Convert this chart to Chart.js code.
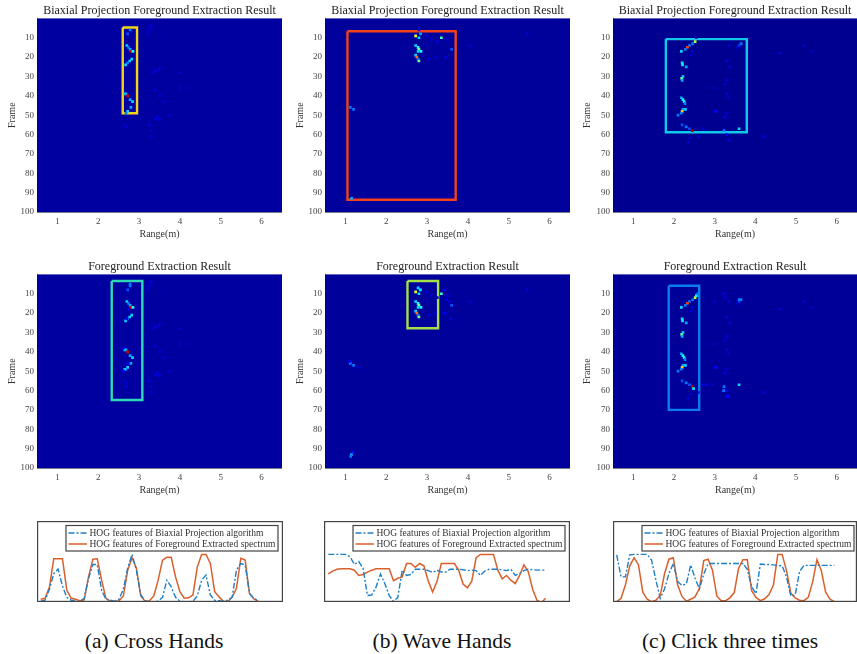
<!DOCTYPE html>
<html>
<head>
<meta charset="utf-8">
<title>Foreground extraction comparison</title>
<script src="https://cdn.jsdelivr.net/npm/chart.js@4"></script>
<style>
    body { margin: 0; background: #fff; }
    #page { position: relative; width: 857px; height: 654px; overflow: hidden; }
    canvas { position: absolute; filter: blur(0.5px); }
    .caption { position: absolute; top: 628px; font: 21.5px/26px "Liberation Serif", serif; color: #111; transform: translateX(-50%); white-space: nowrap; }
</style>
</head>
<body>
<div id="page">
    <div class="caption" style="left:154px">(a) Cross Hands</div>
    <div class="caption" style="left:442px">(b) Wave Hands</div>
    <div class="caption" style="left:730px">(c) Click three times</div>
</div>
<script>
const rangeTicks = [1, 2, 3, 4, 5, 6];
const frameTicks = [10, 20, 30, 40, 50, 60, 70, 80, 90, 100];
const sampleIndex = [];
for (let i = 0; i <= 50; i++) sampleIndex.push(i);

const biaxialTitle = 'Biaxial Projection Foreground Extraction Result';
const foregroundTitle = 'Foreground Extraction Result';
const biaxialLabel = 'HOG features of Biaxial Projection algorithm';
const foregroundLabel = 'HOG features of Foreground Extracted spectrum';

// heatmap cells seen in both rows: range (m), frame, colour level
const crossRange = [2.78, 2.72, 2.70, 2.74, 2.78, 2.80, 2.85, 2.82, 2.77, 2.72, 2.67, 2.65, 2.68, 2.72, 2.78, 2.84, 2.80, 2.72, 2.68, 3.30, 3.25, 3.22, 3.40, 3.50, 3.35, 4.00, 3.40, 3.50, 3.60, 3.75, 3.45, 3.40, 2.70, 2.65, 3.25, 3.28, 3.30, 3.50, 4.02];
const crossFrame = [6, 8, 14, 15, 16, 17, 17, 21, 22, 23, 24, 39, 39, 40, 42, 43, 46, 48, 49, 4, 6, 8, 27, 26, 28, 28, 37, 40, 43, 50, 51, 52, 56, 55, 55, 58, 61, 52, 36];
const crossLevel = [0.3, 0.25, 0.4, 0.3, 0.35, 0.9, 0.45, 0.4, 0.4, 0.3, 0.4, 0.4, 0.35, 0.9, 0.35, 0.4, 0.35, 0.4, 0.3, 0.085, 0.085, 0.07, 0.07, 0.06, 0.06, 0.06, 0.07, 0.06, 0.06, 0.06, 0.1, 0.07, 0.07, 0.06, 0.07, 0.06, 0.06, 0.06, 0.06];
// extra cells only in the foreground row
const crossExtraRange = [2.78, 2.62, 2.72, 2.65, 2.62, 2.68, 2.74, 2.70];
const crossExtraFrame = [5, 38, 46, 49, 50, 58, 18, 23];
const crossExtraLevel = [0.3, 0.12, 0.12, 0.4, 0.12, 0.085, 0.12, 0.12];

const waveRange = [2.72, 2.84, 2.80, 2.72, 2.78, 2.80, 2.85, 2.78, 2.72, 2.75, 2.78, 2.80, 3.35, 3.60, 1.12, 1.20, 1.15, 2.80, 3.00, 3.10, 3.00, 3.45, 3.25, 3.50, 3.20, 3.05, 5.45, 4.05];
const waveFrame = [9, 8, 10, 14, 15, 16, 17, 17, 19, 20, 21, 22, 10, 16, 46, 47, 93, 6, 9, 11, 14, 20, 12, 11, 20, 21, 8, 14];
const waveLevel = [0.65, 0.35, 0.4, 0.4, 0.45, 0.55, 0.45, 0.4, 0.4, 0.78, 0.3, 0.55, 0.5, 0.25, 0.3, 0.3, 0.35, 0.085, 0.07, 0.07, 0.06, 0.085, 0.06, 0.06, 0.06, 0.06, 0.06, 0.06];
const waveExtraRange = [2.78, 2.83, 3.42, 3.47, 3.55, 3.58, 3.42, 1.13, 1.18, 1.10, 1.30];
const waveExtraFrame = [7, 8, 8, 13, 14, 23, 20, 94, 92, 45, 48];
const waveExtraLevel = [0.4, 0.4, 0.12, 0.12, 0.085, 0.085, 0.12, 0.3, 0.17, 0.12, 0.07];

const clickRange = [2.52, 2.46, 2.38, 2.33, 2.28, 2.18, 2.20, 2.21, 2.30, 2.19, 2.22, 2.20, 2.18, 2.22, 2.25, 2.27, 2.28, 2.22, 2.20, 2.18, 2.10, 2.20, 2.30, 2.38, 2.45, 3.60, 3.23, 3.65, 3.60, 2.55, 2.45, 2.42, 3.30, 3.38, 3.30, 3.25, 3.00, 3.30, 3.35, 3.05, 3.00, 3.25, 3.30, 2.72, 3.30, 3.35, 2.40, 2.35, 2.60, 3.55, 4.20, 4.60, 5.20, 5.40, 3.35];
const clickFrame = [12, 13, 14, 15, 16, 17, 23, 24, 25, 31, 30, 32, 41, 42, 43, 44, 47, 47, 48, 49, 50, 55, 56, 57, 58, 57, 58, 13, 14, 10, 17, 19, 22, 25, 32, 34, 36, 39, 41, 48, 48, 51, 49, 57, 60, 63, 62, 64, 61, 15, 61, 18, 14, 17, 14];
const clickLevel = [0.6, 0.3, 0.3, 0.82, 0.3, 0.4, 0.42, 0.42, 0.35, 0.55, 0.4, 0.35, 0.35, 0.45, 0.45, 0.3, 0.4, 0.35, 0.7, 0.3, 0.3, 0.25, 0.3, 0.25, 0.92, 0.4, 0.3, 0.3, 0.22, 0.085, 0.07, 0.07, 0.085, 0.07, 0.075, 0.07, 0.06, 0.075, 0.07, 0.14, 0.1, 0.12, 0.085, 0.085, 0.12, 0.12, 0.07, 0.06, 0.06, 0.06, 0.085, 0.06, 0.06, 0.06, 0.075];
const clickExtraRange = [2.48, 2.55, 2.58, 3.22, 3.25, 3.00, 2.80, 2.95, 3.60, 3.22, 3.30];
const clickExtraFrame = [59, 11, 10, 10, 12, 14, 57, 57, 13, 60, 63];
const clickExtraLevel = [0.42, 0.45, 0.3, 0.085, 0.085, 0.07, 0.085, 0.07, 0.3, 0.3, 0.14];

// highlight rectangles [from, to]
const boxCrossTopRange = [2.60, 2.95], boxCrossTopFrame = [4.7, 49];
const boxWaveTopRange = [1.05, 3.70], boxWaveTopFrame = [6.6, 93.7];
const boxClickTopRange = [1.80, 3.79], boxClickTopFrame = [10.7, 58.8];
const boxCrossBottomRange = [2.33, 3.08], boxCrossBottomFrame = [3.4, 64.9];
const boxWaveBottomRange = [2.52, 3.27], boxWaveBottomFrame = [3.4, 27.8];
const boxClickBottomRange = [1.87, 2.62], boxClickBottomFrame = [5.9, 70];

// HOG curves, 51 samples, 100 = top of the curves
const crossBiaxial = [1, 3, 26, 59, 68, 33, 9, 3, 1, 0, 7, 49, 78, 78, 24, 5, 3, 1, 5, 26, 70, 99, 66, 14, 2, 0, 0, 1, 9, 45, 31, 9, 1, 0, 0, 1, 12, 45, 56, 14, 3, 2, 1, 3, 9, 66, 80, 77, 17, 7, 2];
const crossForeground = [5, 7, 30, 90, 90, 90, 24, 7, 5, 2, 4, 52, 89, 90, 45, 7, 1, 0, 2, 12, 66, 92, 70, 12, 1, 2, 12, 45, 87, 93, 93, 52, 21, 7, 8, 14, 73, 99, 99, 80, 21, 10, 1, 0, 9, 28, 91, 87, 17, 6, 1];
const waveBiaxial = [99, 99, 99, 99, 99, 94, 78, 84, 70, 13, 14, 31, 58, 38, 13, 1, 9, 66, 55, 57, 68, 68, 68, 65, 61, 66, 62, 62, 68, 68, 68, 67, 65, 66, 65, 55, 64, 68, 68, 68, 67, 65, 68, 55, 59, 65, 68, 67, 66, 66, 66];
const waveForeground = [58, 64, 68, 69, 69, 69, 66, 55, 57, 62, 66, 69, 69, 69, 69, 44, 49, 52, 80, 80, 72, 80, 75, 43, 20, 42, 80, 80, 80, 80, 66, 37, 29, 43, 92, 99, 99, 99, 99, 66, 48, 55, 45, 38, 55, 77, 63, 26, 3, -2, 7];
const clickBiaxial = [98, 52, 52, 98, 99, 99, 99, 99, 87, 45, 7, 27, 59, 80, 42, 34, 37, 77, 49, 27, 58, 80, 80, 80, 80, 80, 80, 80, 80, 80, 68, 31, 17, 79, 78, 78, 77, 76, 75, 52, 12, 14, 63, 76, 76, 76, 76, 76, 76, 76, 76];
const clickForeground = [0, 7, 35, 75, 92, 77, 20, 5, 0, 3, 13, 59, 89, 92, 35, 11, 1, 5, 10, 28, 86, 89, 66, 12, 2, 2, 8, 19, 70, 88, 88, 23, 9, 2, 6, 15, 35, 99, 99, 65, 18, 8, 3, 2, 9, 41, 88, 65, 20, 5, 0];

function jet(level) {
    const l = Math.pow(level, 1.4) + 0.06;
    const c = (v) => Math.round(255 * Math.max(0, Math.min(1, v)));
    return 'rgb(' + c(1.5 - Math.abs(4 * l - 3)) + ',' + c(1.5 - Math.abs(4 * l - 2)) + ',' + c(1.5 - Math.abs(4 * l - 1)) + ')';
}

function addCanvas(left, top, width, height) {
    const canvas = document.createElement('canvas');
    canvas.width = width;
    canvas.height = height;
    canvas.style.left = left + 'px';
    canvas.style.top = top + 'px';
    document.getElementById('page').appendChild(canvas);
    return canvas;
}

const plotBackground = {
    id: 'plotBackground',
    beforeDatasetsDraw(chart, args, opts) {
        const a = chart.chartArea;
        chart.ctx.fillStyle = opts.color;
        chart.ctx.fillRect(a.left, a.top, a.right - a.left, a.bottom - a.top);
    }
};

function heatPanel(p) {
    const serif = '"Liberation Serif", serif';
    const cells = p.range.map((x, i) => ({ x: x, y: p.frame[i] }));
    const r = p.boxRange, f = p.boxFrame;
    new Chart(addCanvas(p.left, p.top, p.width, 240), {
        type: 'scatter',
        data: {
            datasets: [{
                data: cells,
                pointStyle: 'rect',
                pointRadius: 1.9,
                pointBorderWidth: 0,
                backgroundColor: p.level.map(jet)
            }, {
                data: [{ x: r[0], y: f[0] }, { x: r[1], y: f[0] }, { x: r[1], y: f[1] }, { x: r[0], y: f[1] }, { x: r[0], y: f[0] }],
                showLine: true,
                pointRadius: 0,
                borderColor: p.boxColor,
                borderWidth: 2.4
            }]
        },
        options: {
            responsive: false,
            animation: false,
            layout: { padding: 0, autoPadding: false },
            plugins: {
                legend: { display: false },
                tooltip: { enabled: false },
                title: {
                    display: true,
                    text: p.title,
                    fullSize: false,
                    color: '#222',
                    font: { family: serif, size: 12, weight: 'normal' },
                    padding: { top: 3.5, bottom: 0.5 }
                },
                plotBackground: { color: p.background }
            },
            scales: {
                x: {
                    type: 'linear',
                    min: 0.5,
                    max: 6.5,
                    grid: { display: false, tickLength: 4 },
                    border: { color: '#77778a' },
                    afterBuildTicks(axis) { axis.ticks = rangeTicks.map((v) => ({ value: v })); },
                    afterFit(axis) { axis.height = 28; },
                    ticks: { color: '#444', font: { family: serif, size: 9 }, padding: 0, autoSkip: false, maxRotation: 0 },
                    title: { display: true, text: 'Range(m)', color: '#333', font: { family: serif, size: 10 }, padding: { top: 0, bottom: 0 } }
                },
                y: {
                    type: 'linear',
                    reverse: true,
                    min: 0,
                    max: 100,
                    grid: { display: false, drawTicks: false },
                    border: { color: '#77778a' },
                    afterBuildTicks(axis) { axis.ticks = frameTicks.map((v) => ({ value: v })); },
                    afterFit(axis) { axis.width = p.axisWidth; },
                    ticks: { color: '#444', font: { family: serif, size: 9 }, padding: 3, autoSkip: false },
                    title: { display: true, text: 'Frame', color: '#333', font: { family: serif, size: 10 }, padding: { top: p.framePad, bottom: 0 } }
                }
            }
        },
        plugins: [plotBackground]
    });
}

// legend drawn inside the plot, the library's own legend cannot sit there
const insideLegend = {
    id: 'insideLegend',
    afterDatasetsDraw(chart, args, opts) {
        const ctx = chart.ctx;
        ctx.save();
        ctx.fillStyle = '#fff';
        ctx.fillRect(opts.left, opts.top, opts.width, opts.height);
        ctx.strokeStyle = '#444';
        ctx.lineWidth = 1.2;
        ctx.strokeRect(opts.left, opts.top, opts.width, opts.height);
        ctx.font = '9.5px "Liberation Serif", serif';
        ctx.textBaseline = 'middle';
        chart.data.datasets.forEach((ds, i) => {
            const y = opts.top + 7.5 + i * 11;
            ctx.strokeStyle = ds.borderColor;
            ctx.lineWidth = ds.borderWidth;
            ctx.setLineDash(ds.borderDash || []);
            ctx.beginPath();
            ctx.moveTo(opts.left + 2.5, y);
            ctx.lineTo(opts.left + 21, y);
            ctx.stroke();
            ctx.setLineDash([]);
            ctx.fillStyle = '#333';
            ctx.fillText(ds.label, opts.left + 23.5, y);
        });
        ctx.strokeStyle = '#444';
        ctx.lineWidth = 1.2;
        ctx.strokeRect(0.6, 0.6, chart.width - 1.2, chart.height - 1.2);
        ctx.restore();
    }
};

function hogPanel(p) {
    new Chart(addCanvas(p.left, 521, p.width, 81), {
        type: 'line',
        data: {
            labels: sampleIndex,
            datasets: [{
                label: biaxialLabel,
                data: sampleIndex.map((x, i) => ({ x: x, y: p.biaxial[i] })),
                borderColor: '#1f7fc4',
                borderWidth: 1.4,
                borderDash: [6, 2, 2, 2],
                pointRadius: 0
            }, {
                label: foregroundLabel,
                data: sampleIndex.map((x, i) => ({ x: x, y: p.foreground[i] })),
                borderColor: '#d9602c',
                borderWidth: 1.5,
                pointRadius: 0
            }]
        },
        options: {
            responsive: false,
            animation: false,
            layout: { padding: 0, autoPadding: false },
            plugins: {
                legend: { display: false },
                tooltip: { enabled: false },
                insideLegend: { left: 29, top: 4.5, width: 212, height: 25.5 }
            },
            scales: {
                x: { type: 'linear', display: false, min: p.xMin, max: p.xMax },
                y: { type: 'linear', display: false, min: -0.7, max: 169 }
            }
        },
        plugins: [insideLegend]
    });
}

heatPanel({ left: 0, top: 0, width: 282, axisWidth: 37, framePad: 6, title: biaxialTitle, background: '#0000a0', boxColor: '#f5d415', boxRange: boxCrossTopRange, boxFrame: boxCrossTopFrame, range: crossRange, frame: crossFrame, level: crossLevel });
heatPanel({ left: 290, top: 0, width: 280, axisWidth: 35, framePad: 4, title: biaxialTitle, background: '#00009a', boxColor: '#f5401a', boxRange: boxWaveTopRange, boxFrame: boxWaveTopFrame, range: waveRange, frame: waveFrame, level: waveLevel });
heatPanel({ left: 575, top: 0, width: 282, axisWidth: 38, framePad: 6, title: biaxialTitle, background: '#000090', boxColor: '#10c8e8', boxRange: boxClickTopRange, boxFrame: boxClickTopFrame, range: clickRange, frame: clickFrame, level: clickLevel });
heatPanel({ left: 0, top: 256, width: 282, axisWidth: 37, framePad: 6, title: foregroundTitle, background: '#0000a0', boxColor: '#2fd9b5', boxRange: boxCrossBottomRange, boxFrame: boxCrossBottomFrame, range: crossRange.concat(crossExtraRange), frame: crossFrame.concat(crossExtraFrame), level: crossLevel.concat(crossExtraLevel) });
heatPanel({ left: 290, top: 256, width: 280, axisWidth: 35, framePad: 4, title: foregroundTitle, background: '#00009a', boxColor: '#a4e04a', boxRange: boxWaveBottomRange, boxFrame: boxWaveBottomFrame, range: waveRange.concat(waveExtraRange), frame: waveFrame.concat(waveExtraFrame), level: waveLevel.concat(waveExtraLevel) });
heatPanel({ left: 575, top: 256, width: 282, axisWidth: 38, framePad: 6, title: foregroundTitle, background: '#000098', boxColor: '#0a7cf0', boxRange: boxClickBottomRange, boxFrame: boxClickBottomFrame, range: clickRange.concat(clickExtraRange), frame: clickFrame.concat(clickExtraFrame), level: clickLevel.concat(clickExtraLevel) });

hogPanel({ left: 37, width: 246, xMin: -0.85, xMax: 55.7, biaxial: crossBiaxial, foreground: crossForeground });
hogPanel({ left: 324, width: 246, xMin: -0.99, xMax: 55.6, biaxial: waveBiaxial, foreground: waveForeground });
hogPanel({ left: 613, width: 244, xMin: -0.85, xMax: 55.2, biaxial: clickBiaxial, foreground: clickForeground });
</script>
</body>
</html>
